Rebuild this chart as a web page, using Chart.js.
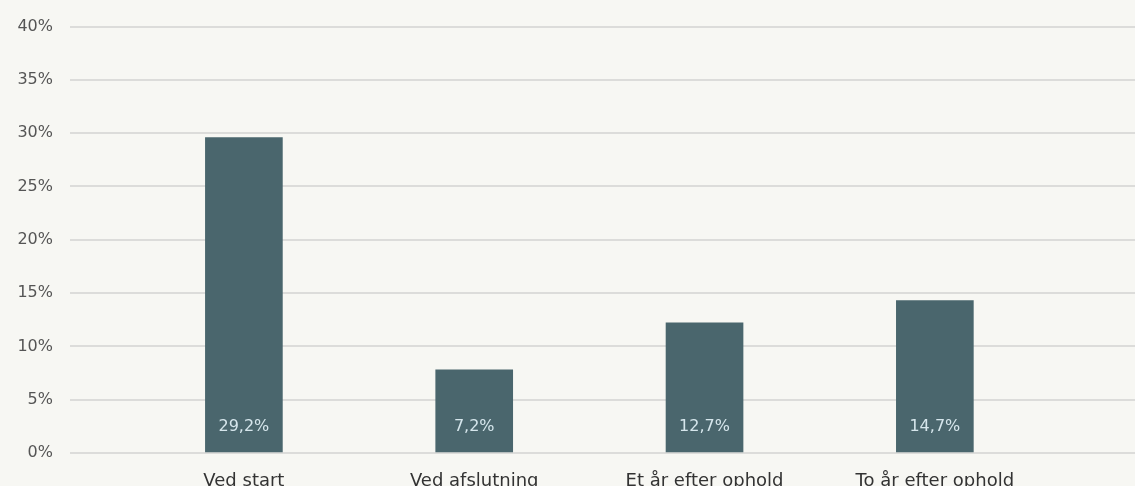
<!DOCTYPE html>
<html>
<head>
<meta charset="utf-8">
<script src="https://cdn.jsdelivr.net/npm/chart.js@4"></script>
<style>
    html, body { margin: 0; padding: 0; background: #f7f7f3; }
    #wrap { width: 1135px; height: 486px; }
</style>
</head>
<body>
<div id="wrap"><canvas id="mainChart" width="1135" height="486"></canvas></div>
<script>
const categories = ['Ved start', 'Ved afslutning', 'Et år efter ophold', 'To år efter ophold'];
// bar heights as drawn in the picture (percent)
const barValues = [29.6, 7.8, 12.2, 14.3];
// value labels as printed on the bars
const barLabels = ['29,2%', '7,2%', '12,7%', '14,7%'];
const yTicks = [0, 5, 10, 15, 20, 25, 30, 35, 40];

const barLabelPlugin = {
    id: 'barLabels',
    afterDatasetsDraw(chart) {
        const ctx = chart.ctx;
        const meta = chart.getDatasetMeta(0);
        ctx.save();
        ctx.fillStyle = '#d6e6ec';
        ctx.font = '16px "DejaVu Sans"';
        ctx.textAlign = 'center';
        ctx.textBaseline = 'middle';
        meta.data.forEach((bar, i) => {
            ctx.fillText(barLabels[i], bar.x, bar.base - 25);
        });
        ctx.restore();
    }
};

function initializeChart() {
    const ctx = document.getElementById('mainChart').getContext('2d');

    new Chart(ctx, {
        type: 'bar',
        data: {
            datasets: [{
                data: barValues.map((v, i) => ({ x: i, y: v })),
                backgroundColor: '#4a666d',
                borderWidth: 0,
                barThickness: 77
            }]
        },
        options: {
            responsive: false,
            animation: false,
            layout: {
                padding: { top: 22, right: 0, left: 0, bottom: 0 }
            },
            plugins: {
                legend: { display: false },
                tooltip: { enabled: false }
            },
            scales: {
                x: {
                    type: 'linear',
                    offset: false,
                    min: -0.755,
                    max: 3.869,
                    afterBuildTicks: scale => {
                        scale.ticks = categories.map((_, i) => ({ value: i }));
                    },
                    afterFit: scale => { scale.height = 33; },
                    border: { display: false },
                    grid: { display: false, drawTicks: false },
                    ticks: {
                        padding: 18,
                        autoSkip: false,
                        maxRotation: 0,
                        color: '#333333',
                        font: { family: 'DejaVu Sans', size: 18 },
                        callback: value => categories[value]
                    }
                },
                y: {
                    min: 0,
                    max: 40,
                    afterBuildTicks: scale => {
                        scale.ticks = yTicks.map(v => ({ value: v }));
                    },
                    afterFit: scale => { scale.width = 70; },
                    border: { display: false },
                    grid: {
                        color: '#dcdcda',
                        lineWidth: 2,
                        drawTicks: false
                    },
                    ticks: {
                        padding: 17,
                        color: '#555555',
                        font: { family: 'DejaVu Sans', size: 16 },
                        callback: value => value + '%'
                    }
                }
            }
        },
        plugins: [barLabelPlugin]
    });
}

document.addEventListener('DOMContentLoaded', initializeChart);
</script>
</body>
</html>
